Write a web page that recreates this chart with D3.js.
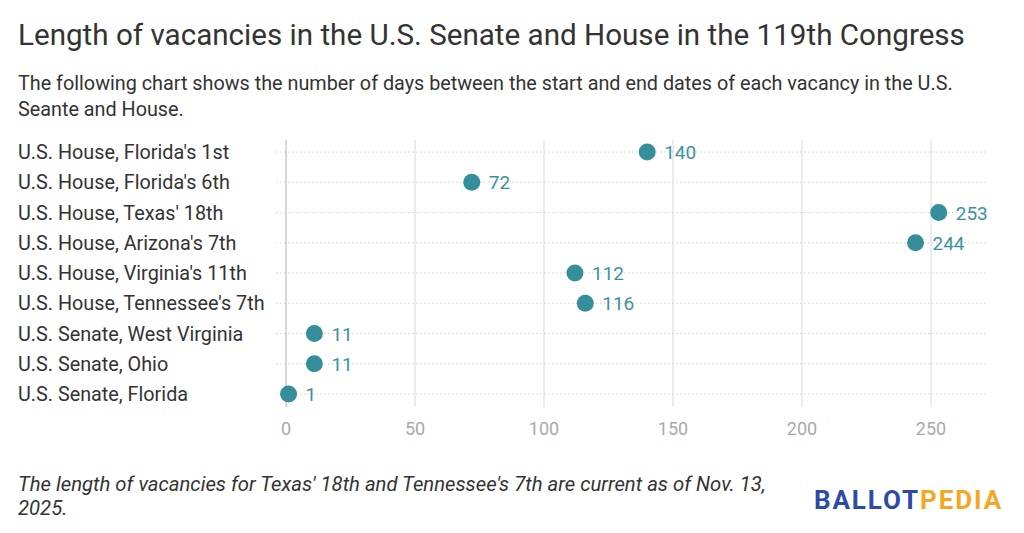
<!DOCTYPE html>
<html>
<head>
<meta charset="utf-8">
<script src="https://cdn.jsdelivr.net/npm/d3@7"></script>
<style>
  body { margin: 0; background: #fff; }
  svg { display: block; font-family: Roboto, "Noto Sans", sans-serif; }
</style>
</head>
<body>
<svg width="1024" height="533"></svg>
<script>
const seats = [
  "U.S. House, Florida's 1st",
  "U.S. House, Florida's 6th",
  "U.S. House, Texas' 18th",
  "U.S. House, Arizona's 7th",
  "U.S. House, Virginia's 11th",
  "U.S. House, Tennessee's 7th",
  "U.S. Senate, West Virginia",
  "U.S. Senate, Ohio",
  "U.S. Senate, Florida"
];
const days = [140, 72, 253, 244, 112, 116, 11, 11, 1];
const xTicks = [0, 50, 100, 150, 200, 250];

const svg = d3.select('svg');

// plot area
const plotLeft = 286, plotRight = 988, plotTop = 140, plotBottom = 407;

const x = d3.scaleLinear().domain([0, 250]).range([plotLeft, 931]);
const y = d3.scalePoint().domain(seats).range([152, 394]);

// titles
svg.append('text')
  .attr('x', 18).attr('y', 45)
  .attr('font-size', 29.6).attr('fill', '#333')
  .text('Length of vacancies in the U.S. Senate and House in the 119th Congress');

const sub = svg.append('text')
  .attr('font-size', 19.8).attr('fill', '#333');
sub.append('tspan').attr('x', 18).attr('y', 90)
  .text('The following chart shows the number of days between the start and end dates of each vacancy in the U.S.');
sub.append('tspan').attr('x', 18).attr('y', 116)
  .text('Seante and House.');

// vertical gridlines
svg.append('g').selectAll('line')
  .data(xTicks)
  .enter().append('line')
    .attr('x1', d => x(d)).attr('x2', d => x(d))
    .attr('y1', plotTop).attr('y2', plotBottom)
    .attr('stroke', d => d === 0 ? '#c8c8c8' : '#e6e6e6')
    .attr('stroke-width', 1.5);

// dotted row lines
svg.append('g').selectAll('line')
  .data(seats)
  .enter().append('line')
    .attr('x1', 276).attr('x2', plotRight)
    .attr('y1', d => y(d)).attr('y2', d => y(d))
    .attr('stroke', '#d0d0d0')
    .attr('stroke-width', 1)
    .attr('stroke-dasharray', '1.5,2.5');

// x tick labels
svg.append('g').selectAll('text')
  .data(xTicks)
  .enter().append('text')
    .attr('x', d => x(d)).attr('y', 435)
    .attr('text-anchor', 'middle')
    .attr('font-size', 18).attr('fill', '#aaa')
    .text(d => d);

// row labels
svg.append('g').selectAll('text')
  .data(seats)
  .enter().append('text')
    .attr('x', 18).attr('y', d => y(d) + 7)
    .attr('font-size', 19.8).attr('fill', '#333')
    .text(d => d);

// dots + values
const rows = seats.map((s, i) => ({ seat: s, days: days[i] }));

svg.append('g').selectAll('circle')
  .data(rows)
  .enter().append('circle')
    .attr('cx', d => x(d.days)).attr('cy', d => y(d.seat))
    .attr('r', 8.5)
    .attr('fill', '#348f9a');

svg.append('g').selectAll('text')
  .data(rows)
  .enter().append('text')
    .attr('x', d => x(d.days) + 17).attr('y', d => y(d.seat) + 7)
    .attr('font-size', 19).attr('fill', '#3a939d')
    .text(d => d.days);

// footnote
const note = svg.append('text')
  .attr('font-size', 20.3).attr('font-style', 'italic').attr('fill', '#333');
note.append('tspan').attr('x', 18).attr('y', 491)
  .text("The length of vacancies for Texas' 18th and Tennessee's 7th are current as of Nov. 13,");
note.append('tspan').attr('x', 18).attr('y', 515)
  .text('2025.');

// logo
const logo = svg.append('text')
  .attr('x', 814).attr('y', 509)
  .attr('font-size', 26).attr('font-weight', 'bold')
  .attr('letter-spacing', 1.9);
logo.append('tspan').attr('fill', '#2d4aa6').text('BALLOT');
logo.append('tspan').attr('fill', '#f5a623').text('PEDIA');
</script>
</body>
</html>
